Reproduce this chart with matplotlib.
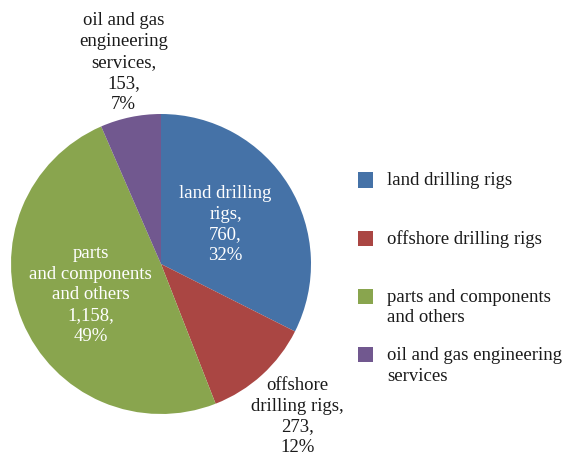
import matplotlib.pyplot as plt
from matplotlib.patches import Rectangle

# segments of the market (clockwise from 12 o'clock)
names = ['land drilling rigs', 'offshore drilling rigs',
         'parts and components and others', 'oil and gas engineering services']
values = [760, 273, 1158, 153]
pcts = [32, 12, 49, 7]
colors = ['#4572A7', '#AA4643', '#89A54E', '#71588F']

# how each label is written on / around the pie
label_txt = ['land drilling\nrigs,', 'offshore\ndrilling rigs,',
             'parts\nand components\nand others', 'oil and gas\nengineering\nservices,']
legend_txt = ['land drilling rigs', 'offshore drilling rigs',
              'parts and components\nand others', 'oil and gas engineering\nservices']

plt.rcParams['font.family'] = ['Liberation Serif', 'DejaVu Serif']
plt.rcParams['font.size'] = 13.5

W, H = 566, 456
fig = plt.figure(figsize=(W/100, H/100), dpi=100)
ax = fig.add_axes([11/W, 41/H, 300/W, 300/H])

wedges, _ = ax.pie(values, colors=colors, startangle=90, counterclock=False,
                   wedgeprops=dict(linewidth=0))
ax.set_xlim(-1, 1)
ax.set_ylim(-1, 1)
ax.set_aspect('equal')

# label positions (data units, pie radius = 1)
pos = [(0.43, 0.27), (0.91, -1.01), (-0.47, -0.20), (-0.25, 1.35)]
inside = [True, False, True, False]
for i in range(4):
    s = '%s\n%s,\n%d%%' % (label_txt[i], format(values[i], ','), pcts[i])
    ax.text(pos[i][0], pos[i][1], s, ha='center', va='center',
            color='white' if inside[i] else '#1a1a1a', linespacing=1.3,
            clip_on=False)

# legend drawn by hand so the swatch lines up with the first text line
for i in range(4):
    yc = 181 + 58.3 * i          # pixel row of first text line (from top)
    fig.patches.append(Rectangle((358/W, 1 - (yc + 7.5)/H), 15/W, 15/H,
                                 facecolor=colors[i], edgecolor='none',
                                 transform=fig.transFigure, figure=fig))
    fig.text(387/W, 1 - (yc - 9)/H, legend_txt[i], ha='left', va='top',
             color='#1a1a1a', linespacing=1.3)

fig.savefig('out.png', dpi=100)
